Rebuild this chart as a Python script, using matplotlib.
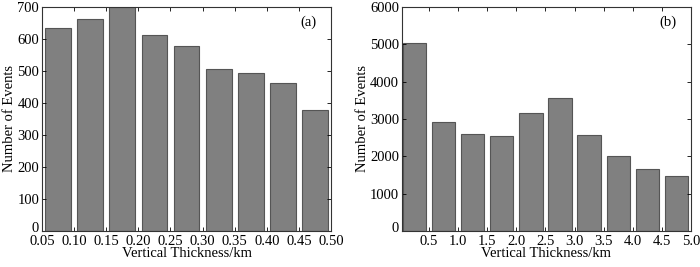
import numpy as np
import matplotlib
matplotlib.use("Agg")
import matplotlib.pyplot as plt
import matplotlib.transforms as mtransforms

# bin centres (km) and counts
thick_a = [0.075, 0.125, 0.175, 0.225, 0.275, 0.325, 0.375, 0.425, 0.475]
counts_a = [635, 662, 699, 613, 578, 505, 494, 463, 378]

thick_b = [0.25, 0.75, 1.25, 1.75, 2.25, 2.75, 3.25, 3.75, 4.25, 4.75]
counts_b = [5030, 2930, 2600, 2540, 3170, 3560, 2570, 2020, 1650, 1460]

ticks_a = [0.05, 0.10, 0.15, 0.20, 0.25, 0.30, 0.35, 0.40, 0.45, 0.50]
ticks_b = [0.5, 1.0, 1.5, 2.0, 2.5, 3.0, 3.5, 4.0, 4.5, 5.0]

plt.rcParams['font.family'] = ['Liberation Serif', 'DejaVu Serif']
plt.rcParams['font.size'] = 10.5

fig = plt.figure(figsize=(7, 2.67), dpi=100)
ax1 = fig.add_axes([0.06, 0.135, 0.413, 0.839])
ax2 = fig.add_axes([0.574, 0.135, 0.413, 0.839])


def style(ax):
	ax.tick_params(direction='in', top=True, right=True, length=3, width=0.6, labelsize=10.5)
	ax.tick_params(axis='x', pad=3)
	ax.tick_params(axis='y', pad=2)
	for s in ax.spines.values():
		s.set_linewidth(0.8)
		s.set_color('#333333')
	# nudge the "0" label up a little so it clears the first x label
	lab0 = ax.get_yticklabels()[0]
	lab0.set_transform(lab0.get_transform() + mtransforms.ScaledTranslation(0, 3 / 72, fig.dpi_scale_trans))


ax1.bar(thick_a, counts_a, width=0.04, color='#808080', edgecolor='#555555', linewidth=0.8)
ax1.set_xlim(0.05, 0.50)
ax1.set_ylim(0, 700)
ax1.set_xticks(ticks_a)
ax1.set_xticklabels([f"{t:.2f}" for t in ticks_a])
ax1.set_yticks(np.arange(0, 701, 100))
ax1.set_xlabel("Vertical Thickness/km", labelpad=-1)
ax1.set_ylabel("Number of Events", labelpad=1)
ax1.text(0.95, 0.93, "(a)", transform=ax1.transAxes, ha='right', va='center', fontsize=10.5)
style(ax1)

ax2.bar(thick_b, counts_b, width=0.4, color='#808080', edgecolor='#555555', linewidth=0.8)
ax2.set_xlim(0.03, 5.0)
ax2.set_ylim(0, 6000)
ax2.set_xticks(ticks_b)
ax2.set_xticklabels([f"{t:.1f}" for t in ticks_b])
ax2.set_yticks(np.arange(0, 6001, 1000))
ax2.set_xlabel("Vertical Thickness/km", labelpad=-1)
ax2.set_ylabel("Number of Events", labelpad=1)
ax2.text(0.95, 0.93, "(b)", transform=ax2.transAxes, ha='right', va='center', fontsize=10.5)
style(ax2)

fig.savefig("out.png", dpi=100)
